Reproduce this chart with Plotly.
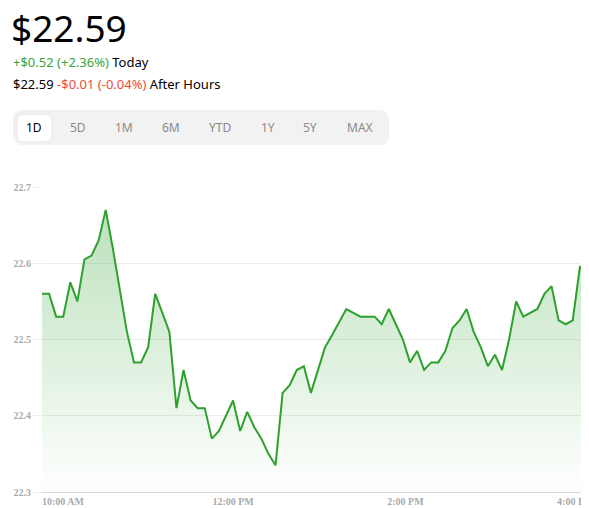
import pandas as pd
import plotly.graph_objects as go

# 5-minute closes, 9:30 AM - 4:00 PM
prices = [
    22.56, 22.56, 22.53, 22.53, 22.575, 22.55, 22.605, 22.61, 22.63, 22.67,
    22.62, 22.565, 22.51, 22.47, 22.47, 22.49, 22.56, 22.535, 22.51, 22.41,
    22.46, 22.42, 22.41, 22.41, 22.37, 22.38, 22.40, 22.42, 22.38, 22.405,
    22.385, 22.37, 22.35, 22.335, 22.43, 22.44, 22.46, 22.465,
    22.43, 22.46, 22.49, 22.506, 22.524, 22.54, 22.535, 22.53, 22.53, 22.53,
    22.52, 22.54, 22.52, 22.50, 22.47, 22.485, 22.46, 22.47, 22.47, 22.485,
    22.515, 22.525, 22.54, 22.51, 22.49, 22.465, 22.48, 22.46, 22.50, 22.55,
    22.53, 22.535, 22.54, 22.56, 22.57, 22.525, 22.52, 22.525, 22.595, 22.59,
    22.60,
]
times = pd.date_range("2024-01-02 09:30", periods=len(prices), freq="5min")
tick_times = ["2024-01-02 10:00", "2024-01-02 12:00", "2024-01-02 14:00", "2024-01-02 16:00"]
tick_labels = ["10:00 AM", "12:00 PM", "2:00 PM", "4:00 PM"]
y_ticks = [22.3, 22.4, 22.5, 22.6, 22.7]
ranges = ["1D", "5D", "1M", "6M", "YTD", "1Y", "5Y", "MAX"]

W, H = 589, 508
L, R, T, B = 34, 3, 179, 24
PW, PH = W - L - R, H - T - B


def px(x):
    return (x - L) / PW


def py(y):
    return (H - B - y) / PH


def rrect(x0, y0, x1, y1, r):
    # rounded rect in pixels -> paper path
    p = lambda x, y: f"{px(x):.5f},{py(y):.5f}"
    return (f"M{p(x0 + r, y0)} L{p(x1 - r, y0)} Q{p(x1, y0)} {p(x1, y0 + r)} "
            f"L{p(x1, y1 - r)} Q{p(x1, y1)} {p(x1 - r, y1)} L{p(x0 + r, y1)} "
            f"Q{p(x0, y1)} {p(x0, y1 - r)} L{p(x0, y0 + r)} Q{p(x0, y0)} {p(x0 + r, y0)} Z")


fig = go.Figure()
fig.add_trace(go.Scatter(x=times, y=[22.3] * len(times), mode="lines",
                         line=dict(width=0), hoverinfo="skip", showlegend=False))
fig.add_trace(go.Scatter(
    x=times, y=prices, mode="lines", fill="tonexty",
    line=dict(color="#2ea02e", width=2),
    fillgradient=dict(type="vertical",
                      colorscale=[[0, "rgba(44,160,44,0.0)"], [1, "rgba(44,160,44,0.32)"]]),
    showlegend=False,
))

tick_font = dict(family="Liberation Serif", size=10, color="#aaaaaa", weight="bold")
fig.update_xaxes(
    range=[times[0], times[-1]], tickvals=tick_times, ticktext=tick_labels,
    ticklabelposition="outside left", showgrid=False, zeroline=False,
    showline=True, linecolor="#d8d8d8", linewidth=1, automargin=False,
    tickfont=tick_font,
)
fig.update_yaxes(
    range=[22.3, 22.7], tickvals=y_ticks, tickformat=".1f",
    gridcolor="#ececec", ticks="outside", ticklen=8, tickcolor="#ececec",
    zeroline=False, showline=False, automargin=False,
    tickfont=tick_font,
)

shapes = [dict(type="path", xref="paper", yref="paper", path=rrect(5, 102, 381, 137, 10),
               fillcolor="#f2f2f2", line=dict(width=0), layer="below"),
          dict(type="path", xref="paper", yref="paper", path=rrect(9, 106, 44, 134, 7),
               fillcolor="white", line=dict(color="#e6e6e6", width=1), layer="below")]

font = "Noto Sans"
ann = [
    dict(x=px(1), y=py(19), text="$22.59", font=dict(family=font, size=37, color="black")),
    dict(x=px(3), y=py(54), font=dict(family=font, size=13, color="black"),
         text="<span style='color:#3aa63a'>+$0.52 (+2.36%)</span> Today"),
    dict(x=px(3), y=py(76), font=dict(family=font, size=13, color="black"),
         text="$22.59 <span style='color:#f04a3a'>-$0.01 (-0.04%)</span> After Hours"),
]
btn_x = [26, 70, 116, 163, 212, 260, 302, 352]
for i, (lab, bx) in enumerate(zip(ranges, btn_x)):
    ann.append(dict(x=px(bx), y=py(120), xanchor="center", text=lab,
                    font=dict(family=font, size=12, color="black" if i == 0 else "#8a8a8a")))
for a in ann:
    a.setdefault("xanchor", "left")
    a.update(xref="paper", yref="paper", yanchor="middle", showarrow=False)

fig.update_layout(
    width=W, height=H, margin=dict(l=L, r=R, t=T, b=B, autoexpand=False),
    paper_bgcolor="white", plot_bgcolor="white",
    shapes=shapes, annotations=ann, hovermode="x",
)
fig.write_html("out.html")
